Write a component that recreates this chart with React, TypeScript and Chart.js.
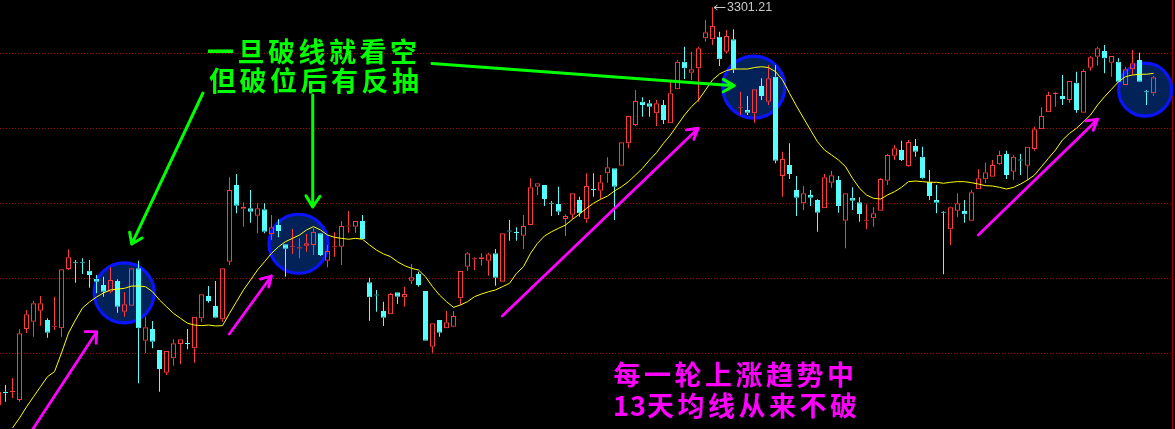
import React, { useEffect, useRef } from 'react';
import { Chart, registerables } from 'chart.js';

Chart.register(...registerables);

// ---- Data (daily candles) ----
const OPEN = [
  3036, 3044.9, 3044.5, 3039.3, 3086.7, 3091.5, 3098.9, 3092.7, 3088.2, 3087.1,
  3126.7, 3131.2, 3131.5, 3125.5, 3120.2, 3116, 3111.5, 3118.7, 3098.2, 3102.2,
  3127.1, 3078.9, 3086.7, 3072.7, 3057.5, 3067.1, 3076.7, 3077.4, 3073.8, 3093.8,
  3108.7, 3102, 3093.1, 3131.5, 3182.7, 3166.9, 3167.1, 3162.2, 3166.5, 3150,
  3156, 3143.1, 3141.1, 3140.4, 3142.2, 3142.7, 3150.5, 3132.2, 3141.2, 3141.5,
  3155, 3154.9, 3158.7, 3117.8, 3109.7, 3098.7, 3096.5, 3111.1, 3107.8, 3118.9,
  3123.3, 3112, 3074.9, 3092.7, 3087.1, 3088.2, 3107.1, 3128.2, 3133.1, 3133.1,
  3132.2, 3137.1, 3118.2, 3152.3, 3151.4, 3148.9, 3156, 3181.5, 3182.7, 3170.8,
  3170, 3160, 3162.9, 3172.7, 3159.8, 3180.1, 3178.9, 3190.5, 3193.8, 3195.5,
  3210.5, 3222.7, 3238.2, 3237.1, 3230.5, 3236, 3223.8, 3246.5, 3264.9, 3257.5,
  3260.5, 3280.5, 3279.8, 3281.5, 3271.5, 3279.8, 3234.1, 3232.7, 3230.5, 3248.7,
  3238.2, 3254.9, 3188.7, 3196, 3179.3, 3170.5, 3176, 3172.7, 3167.1, 3184.2,
  3186, 3158.9, 3174.2, 3171.1, 3158.5, 3160.5, 3165.5, 3185.5, 3202.2, 3206,
  3195.3, 3208.7, 3201.5, 3184.9, 3172.7, 3164.8, 3153.1, 3165.5, 3165.3, 3158.9,
  3179.8, 3186.5, 3188.2, 3196.5, 3203.3, 3191.5, 3199.7, 3195.5, 3206.7, 3219.8,
  3231.1, 3243.3, 3242, 3239.3, 3250.9, 3230.9, 3260.9, 3268.2, 3272, 3264.2,
  3264.9, 3249.3, 3259.8, 3266, 3245.2, 3243.8,
];
const HIGH = [
  3047, 3049.3, 3054, 3086.5, 3099.3, 3105.5, 3108.7, 3093.8, 3108.2, 3126.7,
  3139.8, 3132.7, 3133.8, 3132.7, 3122.7, 3121.5, 3127.8, 3119.8, 3111.1, 3127.1,
  3132.2, 3094.9, 3092, 3072.7, 3072, 3079.8, 3079.8, 3086.7, 3094.9, 3110,
  3115.3, 3118.7, 3127.3, 3187.8, 3190, 3171.1, 3179.3, 3170.5, 3170.5, 3162.7,
  3159.8, 3143.1, 3153.3, 3147.1, 3150, 3153.8, 3150.5, 3142.7, 3151.1, 3158.7,
  3165.3, 3158.7, 3162.7, 3120.9, 3112.7, 3104.9, 3110.9, 3111.1, 3114.9, 3130,
  3124.9, 3112, 3090.5, 3092.7, 3098.7, 3098.7, 3125.3, 3137.8, 3134.5, 3137.1,
  3137.5, 3140, 3150.5, 3159.3, 3154.5, 3162.7, 3187.1, 3183.8, 3182.7, 3172,
  3181.5, 3163.1, 3177.1, 3174.9, 3190.5, 3190.5, 3189.3, 3201.1, 3193.8, 3211.1,
  3228.7, 3246, 3241.1, 3239.3, 3239.3, 3239.3, 3251.5, 3266, 3274.9, 3271.5,
  3274.9, 3292.7, 3301.21, 3284.9, 3286, 3286.5, 3244.9, 3242, 3246.5, 3253.8,
  3262.7, 3262.7, 3204.9, 3210.5, 3188.7, 3182, 3179.3, 3173.1, 3190, 3192.2,
  3188.7, 3177.1, 3181.1, 3174.5, 3169.8, 3167.8, 3187.1, 3203.3, 3209.3, 3212.2,
  3212.7, 3213.3, 3208.2, 3192.7, 3182.7, 3165.3, 3168.2, 3177.1, 3172.7, 3179.3,
  3193.1, 3197.5, 3199.3, 3205.5, 3205.5, 3202.7, 3203.3, 3208.2, 3221.5, 3234.5,
  3244.9, 3244.9, 3256, 3252, 3258.2, 3259.8, 3268.7, 3274.9, 3276, 3268.7,
  3267.1, 3261.5, 3272.7, 3270.9, 3246, 3255.3,
];
const LOW = [
  3029, 3038.2, 3040.7, 3038.2, 3084, 3081.5, 3088.9, 3080.9, 3086, 3081.5,
  3126, 3117.5, 3123.3, 3114.2, 3110.5, 3108.2, 3110.5, 3097.5, 3094.9, 3102.2,
  3050.5, 3070.5, 3073.8, 3044.9, 3056, 3062.2, 3063.3, 3073.1, 3064.2, 3091.5,
  3104.2, 3093.8, 3091.5, 3129.3, 3163.8, 3154.9, 3157.5, 3150.5, 3150.5, 3146,
  3147.8, 3121.5, 3136.7, 3133.8, 3138.2, 3136, 3135.3, 3127.8, 3134.9, 3129.3,
  3150.9, 3150.9, 3146.7, 3092.2, 3098.2, 3088.7, 3096.5, 3103.3, 3101.5, 3116.7,
  3114.9, 3078.9, 3070.9, 3081.5, 3087.1, 3087.8, 3102.7, 3125.5, 3126, 3128.9,
  3122.2, 3115.5, 3118.2, 3145.5, 3145.5, 3140, 3156, 3176, 3168.7, 3162,
  3162.7, 3148.7, 3160, 3161.5, 3157.5, 3174.9, 3173.3, 3184.2, 3159.3, 3195.5,
  3207.1, 3222, 3228.2, 3228.2, 3222, 3223.3, 3223.8, 3246.5, 3253.3, 3252.7,
  3238.2, 3278.2, 3276, 3262, 3270.5, 3257.3, 3229.3, 3229.3, 3224.2, 3239.3,
  3236, 3197.1, 3174.9, 3186.7, 3162, 3166, 3168.7, 3151.5, 3167.1, 3180.9,
  3164.2, 3140.5, 3166, 3158.2, 3153.1, 3154.9, 3165.5, 3182.7, 3199.3, 3198.7,
  3194.9, 3201.5, 3186.5, 3172.7, 3163.8, 3123.1, 3142.7, 3161.1, 3157.5, 3158.9,
  3179.8, 3183.8, 3188.2, 3196, 3186.7, 3186, 3189.3, 3186, 3205.5, 3219.8,
  3231.1, 3234.9, 3236, 3237.5, 3230.9, 3230.9, 3258.9, 3262.2, 3257.1, 3254.9,
  3251.5, 3249.3, 3256, 3251.5, 3236, 3242,
];
const CLOSE = [
  3044.7, 3043.8, 3045.3, 3083.8, 3096.5, 3103.8, 3103.8, 3084.2, 3088.9, 3126.5,
  3134.5, 3130.5, 3130.8, 3122.7, 3118.2, 3111.5, 3119.3, 3101.5, 3103.1, 3127.1,
  3087.1, 3087.8, 3078.2, 3060, 3072, 3077.1, 3079.8, 3076.7, 3094.9, 3109.8,
  3105.3, 3094.2, 3127.1, 3179.3, 3168.9, 3168.2, 3164.9, 3167.1, 3151.5, 3154.5,
  3152, 3140.2, 3141.8, 3141.1, 3143.8, 3151.5, 3136, 3138.7, 3141.9, 3155.3,
  3155.7, 3158.7, 3146.7, 3107.8, 3109, 3094.2, 3110, 3108.2, 3110, 3121.1,
  3116, 3078.9, 3090.5, 3084.2, 3091.1, 3095.3, 3125.3, 3137.1, 3133.8, 3134.5,
  3136.5, 3120.9, 3150.5, 3151.6, 3150.7, 3155.3, 3181.1, 3183.8, 3173.3, 3170.1,
  3164.9, 3162, 3177.1, 3163.8, 3182, 3179.4, 3184.5, 3194.5, 3181.5, 3211.1,
  3228.7, 3238.7, 3236, 3234.9, 3237.1, 3226, 3243.8, 3264.9, 3260.5, 3259.8,
  3273.8, 3284.5, 3288.7, 3266.5, 3282, 3259.8, 3234.8, 3230.9, 3246.5, 3242,
  3253.8, 3198.9, 3200, 3190, 3174.2, 3177.1, 3174.2, 3164.2, 3187.8, 3189.1,
  3168.7, 3177.1, 3172.2, 3163.3, 3159.2, 3163.8, 3186.7, 3202.7, 3207.1, 3199.3,
  3211.3, 3204.9, 3187.1, 3175.3, 3170.9, 3164.1, 3167.8, 3170.5, 3163.1, 3177.8,
  3187.1, 3191.1, 3196, 3202.7, 3189.3, 3201.5, 3199, 3208.2, 3219.8, 3228.7,
  3242.7, 3244.2, 3240, 3252, 3232.7, 3258.7, 3267.8, 3273.8, 3267.1, 3268.7,
  3251.5, 3259.8, 3263.8, 3251.5, 3244.5, 3254.5,
];
// 13-day moving average (yellow line)
const MA13 = [
  null, null, 3020.7, 3027.3, 3034.7, 3041.5, 3048.2, 3054.9, 3058.2, 3070.7,
  3084, 3092.7, 3100.7, 3104.7, 3108, 3110.7, 3112.7, 3113.3, 3113.8, 3115.3,
  3115.3, 3114.9, 3111.5, 3106, 3101.5, 3097.1, 3093.8, 3090.5, 3089.3, 3088.9,
  3089.3, 3088.7, 3088.9, 3097.1, 3104.9, 3112.7, 3119.3, 3126, 3131.5, 3137.1,
  3141.5, 3144.9, 3147.1, 3149.3, 3152.7, 3154.9, 3152.7, 3149.3, 3147.8, 3147.1,
  3146.5, 3147.1, 3146.5, 3142.7, 3139.3, 3136.7, 3134.9, 3131.5, 3128.9, 3127.1,
  3126, 3121.5, 3114.9, 3109.3, 3104.9, 3101.1, 3102.7, 3104.9, 3108.2, 3110,
  3111.5, 3112.7, 3114.9, 3117.1, 3123.8, 3128.2, 3137.1, 3143.8, 3148.7, 3151.5,
  3153.8, 3156, 3159.8, 3163.3, 3167.1, 3170.5, 3173.1, 3175.3, 3178.7, 3181.5,
  3184.9, 3189.3, 3193.8, 3199.3, 3204.2, 3210.5, 3216, 3222.7, 3229.3, 3234.9,
  3239.3, 3246, 3252.7, 3256.7, 3259, 3260, 3260, 3260, 3261, 3261.5,
  3261, 3258.2, 3252.7, 3243.8, 3235.3, 3227.3, 3219.3, 3211.5, 3206, 3202.7,
  3199.3, 3194.9, 3187.1, 3180.5, 3176, 3173.8, 3173.3, 3176, 3178.2, 3181.1,
  3184.9, 3185.3, 3184.9, 3184.5, 3184.5, 3183.8, 3184.5, 3184.9, 3184.9, 3184.2,
  3183.3, 3182.2, 3182, 3181.1, 3180, 3181.1, 3183.3, 3186, 3189.3, 3194.9,
  3200.5, 3206, 3212.7, 3217.1, 3220.5, 3224.9, 3229.3, 3236, 3241.5, 3246.5,
  3251.5, 3254.9, 3256, 3256.5, 3256.5, 3257.1,
];
const GRID_LEVELS = [3070, 3120, 3170, 3220, 3270];
const HIGH_LABEL = '3301.21';
const HIGH_INDEX = 102;

// ---- Annotations (data coordinates: [index, price]) ----
const CIRCLES = [
  { x: 17.96, y: 3110.8, r: 30 },
  { x: 42.86, y: 3143.5, r: 29.5 },
  { x: 107.9, y: 3247.9, r: 31 },
  { x: 163.8, y: 3246.2, r: 26.5 },
];
const GREEN_ARROWS = [
  { from: [29.21, 3244], to: [19.03, 3143.3], arms: [-30, -100], len: 12 },
  { from: [44.89, 3242.7], to: [44.89, 3168], arms: [-121, -56], len: 13 },
  { from: [61.93, 3263.7], to: [105.1, 3248.9], arms: [-150, 151], len: 12.5 },
];
const MAGENTA_ARROWS = [
  { from: [4.59, 3017.7], to: [14.03, 3084.9], arms: [180, 93], len: 11.7 },
  { from: [32.97, 3083.3], to: [39.0, 3122], arms: [164, 104], len: 11.5 },
  { from: [71.97, 3095.3], to: [99.97, 3220.5], arms: [172, 112], len: 12 },
  { from: [139.97, 3149.3], to: [157.03, 3226.5], arms: [172, 112], len: 12 },
];
const GREEN_TEXT = [
  { text: '一旦破线就看空', x: 29.79, y: 3271.7 },
  { text: '但破位后有反抽', x: 30.07, y: 3252.3 },
];
const MAGENTA_TEXT = [
  { text: '每一轮上涨趋势中', x: 87.86, y: 3056 },
  { text: '13天均线从来不破', x: 87.79, y: 3035.7 },
];

const RED = '#ff3c3c';
const CYAN = '#54ffff';
const X_MIN = 1.5 / 7;
const X_MAX = X_MIN + 1175 / 7;

function drawArrow(ctx: CanvasRenderingContext2D, chart: any, a: any, color: string, width: number) {
  const xs = chart.scales.x;
  const ys = chart.scales.y;
  const x0 = xs.getPixelForValue(a.from[0]);
  const y0 = ys.getPixelForValue(a.from[1]);
  const x1 = xs.getPixelForValue(a.to[0]);
  const y1 = ys.getPixelForValue(a.to[1]);
  ctx.save();
  ctx.strokeStyle = color;
  ctx.lineWidth = width;
  ctx.lineCap = 'round';
  ctx.lineJoin = 'round';
  ctx.beginPath();
  ctx.moveTo(x0, y0);
  ctx.lineTo(x1, y1);
  for (const deg of a.arms) {
    const r = (deg * Math.PI) / 180;
    ctx.moveTo(x1, y1);
    ctx.lineTo(x1 + a.len * Math.cos(r), y1 + a.len * Math.sin(r));
  }
  ctx.stroke();
  ctx.restore();
}

function drawSpaced(ctx: CanvasRenderingContext2D, chart: any, t: any, color: string) {
  const xs = chart.scales.x;
  const ys = chart.scales.y;
  let cx = xs.getPixelForValue(t.x);
  const cy = ys.getPixelForValue(t.y);
  ctx.save();
  ctx.fillStyle = color;
  ctx.font = 'bold 27px "Noto Sans CJK SC"';
  ctx.textAlign = 'left';
  ctx.textBaseline = 'middle';
  for (const ch of t.text) {
    ctx.fillText(ch, cx, cy);
    if (/[\x00-\x7f]/.test(ch)) cx += ctx.measureText(ch).width + 1;
    else cx += 30.5;
  }
  ctx.restore();
}

const overlayPlugin = {
  id: 'overlay',
  beforeDraw(chart: any) {
    const ctx = chart.ctx;
    ctx.save();
    ctx.fillStyle = '#000';
    ctx.fillRect(0, 0, chart.width, chart.height);
    ctx.restore();
  },
  beforeDatasetsDraw(chart: any) {
    const ctx = chart.ctx;
    const ys = chart.scales.y;
    const xs = chart.scales.x;
    const area = chart.chartArea;
    ctx.save();
    // dotted grid
    ctx.strokeStyle = '#b00000';
    ctx.lineWidth = 1;
    ctx.setLineDash([1, 2]);
    for (const v of GRID_LEVELS) {
      const y = Math.round(ys.getPixelForValue(v)) - 0.5;
      ctx.beginPath();
      ctx.moveTo(area.left, y);
      ctx.lineTo(1172, y);
      ctx.stroke();
    }
    ctx.setLineDash([]);
    // right frame line
    ctx.strokeStyle = '#a00000';
    ctx.beginPath();
    ctx.moveTo(1172.5, area.top);
    ctx.lineTo(1172.5, area.bottom);
    ctx.stroke();
    // circles
    for (const c of CIRCLES) {
      const cx = xs.getPixelForValue(c.x);
      const cy = ys.getPixelForValue(c.y);
      ctx.beginPath();
      ctx.arc(cx, cy, c.r, 0, Math.PI * 2);
      ctx.fillStyle = '#032258';
      ctx.fill();
      ctx.lineWidth = 3.2;
      ctx.strokeStyle = '#0a14ff';
      ctx.stroke();
    }
    ctx.restore();
  },
  afterDatasetsDraw(chart: any) {
    const ctx = chart.ctx;
    const xs = chart.scales.x;
    const ys = chart.scales.y;
    for (const a of GREEN_ARROWS) drawArrow(ctx, chart, a, '#00ff00', 3);
    for (const a of MAGENTA_ARROWS) drawArrow(ctx, chart, a, '#ff00ff', 2.8);
    for (const t of GREEN_TEXT) drawSpaced(ctx, chart, t, '#00ff00');
    for (const t of MAGENTA_TEXT) drawSpaced(ctx, chart, t, '#ff00ff');
    // high label
    const px = xs.getPixelForValue(HIGH_INDEX);
    const py = Math.round(ys.getPixelForValue(HIGH[HIGH_INDEX])) + 0.5;
    ctx.save();
    ctx.strokeStyle = '#c8c8c8';
    ctx.lineWidth = 1;
    ctx.beginPath();
    ctx.moveTo(px + 1.5, py);
    ctx.lineTo(px + 13, py);
    ctx.moveTo(px + 1.5, py);
    ctx.lineTo(px + 5, py - 2.5);
    ctx.moveTo(px + 1.5, py);
    ctx.lineTo(px + 5, py + 2.5);
    ctx.stroke();
    ctx.fillStyle = '#c8c8c8';
    ctx.font = '12.5px "Liberation Sans"';
    ctx.textAlign = 'left';
    ctx.textBaseline = 'middle';
    ctx.fillText(HIGH_LABEL, px + 14.5, py + 0.5);
    ctx.restore();
  },
};

export default function App() {
  const ref = useRef<HTMLCanvasElement>(null);
  useEffect(() => {
    document.body.style.margin = '0';
    document.body.style.background = '#000';
    const idx = OPEN.map((_, i) => i);
    const up = idx.map((i) => CLOSE[i] >= OPEN[i]);
    const colors = up.map((u) => (u ? RED : CYAN));
    const bodies = idx.map((i) => ({ x: i, y: [OPEN[i], CLOSE[i]] }));
    const upper = idx.map((i) => ({ x: i, y: [Math.max(OPEN[i], CLOSE[i]), HIGH[i]] }));
    const lower = idx.map((i) => ({ x: i, y: [LOW[i], Math.min(OPEN[i], CLOSE[i])] }));
    const ma = idx.map((i) => ({ x: i, y: MA13[i] }));

    const chart = new Chart(ref.current as HTMLCanvasElement, {
      type: 'bar',
      data: {
        datasets: [
          {
            type: 'bar',
            data: upper as any,
            backgroundColor: colors,
            borderWidth: 0,
            barThickness: 1,
            grouped: false,
            inflateAmount: 0,
            order: 3,
          } as any,
          {
            type: 'bar',
            data: lower as any,
            backgroundColor: colors,
            borderWidth: 0,
            barThickness: 1,
            grouped: false,
            inflateAmount: 0,
            order: 3,
          } as any,
          {
            type: 'bar',
            data: bodies as any,
            backgroundColor: up.map((u) => (u ? 'rgba(0,0,0,0)' : CYAN)),
            borderColor: colors,
            borderWidth: 1,
            borderSkipped: false,
            barThickness: 5,
            minBarLength: 1,
            grouped: false,
            inflateAmount: 0,
            order: 2,
          } as any,
          {
            type: 'line',
            data: ma as any,
            borderColor: '#ffff00',
            borderWidth: 1,
            pointRadius: 0,
            tension: 0,
            spanGaps: false,
            order: 1,
          } as any,
        ],
      },
      options: {
        animation: false,
        responsive: false,
        maintainAspectRatio: false,
        devicePixelRatio: 1,
        layout: { padding: 0 },
        events: [],
        scales: {
          x: { type: 'linear', min: X_MIN, max: X_MAX, display: false, offset: false },
          y: { type: 'linear', min: 3020, max: 3306, display: false },
        },
        plugins: {
          legend: { display: false },
          tooltip: { enabled: false },
        },
      } as any,
      plugins: [overlayPlugin],
    });
    return () => chart.destroy();
  }, []);
  return (
    <div style={{ width: 1175, height: 429, background: '#000' }}>
      <canvas ref={ref} width={1175} height={429} style={{ display: 'block', width: 1175, height: 429 }} />
    </div>
  );
}
